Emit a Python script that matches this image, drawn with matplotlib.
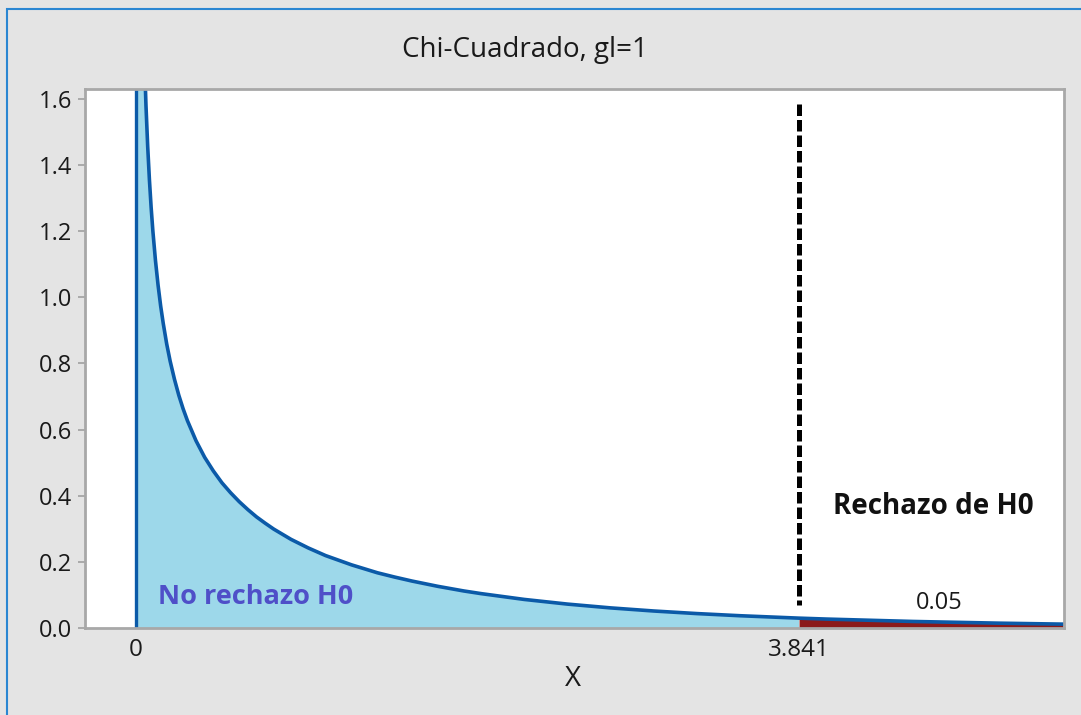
import matplotlib
matplotlib.use("Agg")
import matplotlib.pyplot as plt
from matplotlib.patches import Rectangle

# Density values (chi-square, 1 df)
x_vals = [0.01, 0.02, 0.03, 0.04, 0.05, 0.06, 0.07, 0.08, 0.09, 0.10, 0.115, 0.13,
          0.145, 0.16, 0.18, 0.20, 0.225, 0.25, 0.275, 0.30, 0.35, 0.40, 0.45, 0.50,
          0.55, 0.60, 0.65, 0.70, 0.75, 0.80, 0.90, 1.00, 1.10, 1.25, 1.40, 1.50,
          1.60, 1.75, 1.90, 2.00, 2.25, 2.50, 2.75, 3.00, 3.25, 3.50, 3.841, 4.00,
          4.50, 5.00, 5.37]
y_vals = [3.97, 2.79, 2.27, 1.955, 1.740, 1.580, 1.456, 1.355, 1.271, 1.200, 1.111, 1.037,
          0.974, 0.921, 0.859, 0.807, 0.752, 0.704, 0.663, 0.627, 0.566, 0.516, 0.475, 0.439,
          0.409, 0.382, 0.358, 0.336, 0.317, 0.299, 0.268, 0.242, 0.219, 0.191, 0.167, 0.154,
          0.142, 0.126, 0.112, 0.104, 0.0864, 0.0723, 0.0608, 0.0514, 0.0436, 0.0371, 0.0298, 0.0270,
          0.0198, 0.0146, 0.0117]
critical = 3.841
alpha_label = "0.05"
title = "Chi-Cuadrado, gl=1"
x_label = "X"
y_ticks = [0.0, 0.2, 0.4, 0.6, 0.8, 1.0, 1.2, 1.4, 1.6]
x_ticks = [0, critical]
x_tick_labels = ["0", "3.841"]

plt.rcParams['font.family'] = ['Open Sans', 'DejaVu Sans']

W, H = 1081, 715
fig = plt.figure(figsize=(W / 100, H / 100), dpi=100, facecolor="#e4e4e4")

# outer blue frame
fig.patches.append(Rectangle((7 / W, -0.1), 1.2, (H - 9) / H + 0.1,
                             transform=fig.transFigure, fill=False,
                             edgecolor="#2a86d2", linewidth=1.5))

ax = fig.add_axes([85 / W, (H - 628) / H, (1064 - 85) / W, (628 - 89) / H])
ax.set_facecolor("white")

line_col = "#0b5aa8"
left_x = [x for x in x_vals if x <= critical]
left_y = y_vals[:len(left_x)]
right_x = [x for x in x_vals if x >= critical]
right_y = y_vals[len(x_vals) - len(right_x):]

ax.fill_between(left_x, 0, left_y, color="#9dd8ea", linewidth=0)
ax.fill_between(right_x, 0, right_y, color="#8b1a1a", linewidth=0)
ax.plot(x_vals, y_vals, color=line_col, linewidth=2.6)
ax.plot([0, 0], [0, 5], color=line_col, linewidth=2.4)

ax.plot([critical, critical], [1.585, 0.07], color="black", linewidth=3.6,
        dashes=(2.3, 0.8))

ax.set_xlim(-0.293, 5.375)
ax.set_ylim(0, 1.63)

ax.set_yticks(y_ticks)
ax.set_yticklabels([f"{v:.1f}" for v in y_ticks])
ax.set_xticks(x_ticks)
ax.set_xticklabels(x_tick_labels)
ax.tick_params(axis="y", length=5, width=1.2, color="#a0a0a0", labelsize=17,
               labelcolor="#1a1a1a", pad=4)
ax.tick_params(axis="x", length=0, labelsize=17.5, labelcolor="#1a1a1a", pad=7)
for s in ax.spines.values():
    s.set_color("#a8a8a8")
    s.set_linewidth(2)

fig.text(573 / W, 1 - 679 / H, x_label, ha="center", va="center", fontsize=20,
         color="#1a1a1a")
fig.text(525 / W, 1 - 50 / H, title, ha="center", va="center", fontsize=20,
         color="#1a1a1a")

ax.text(4.62, 0.367, "Rechazo de H0", ha="center", va="center", fontsize=20,
        fontweight="bold", color="#111111")
ax.text(4.65, 0.076, alpha_label, ha="center", va="center", fontsize=17,
        color="#1a1a1a")
ax.text(0.13, 0.094, "No rechazo H0", ha="left", va="center", fontsize=19.5,
        fontweight="bold", color="#4f4fc8")

fig.savefig("out.png", dpi=100, facecolor=fig.get_facecolor())
